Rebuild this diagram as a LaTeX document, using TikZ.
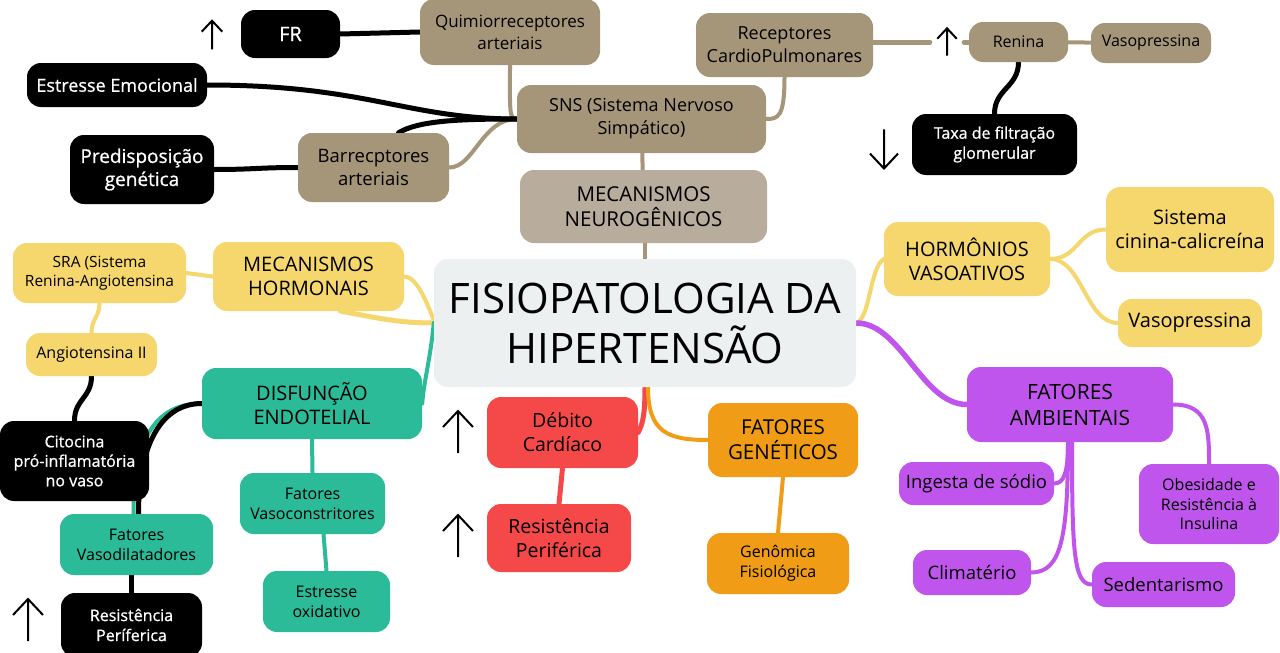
\documentclass[tikz,border=0pt]{standalone}
\usepackage{fontspec}
\setmainfont{Open Sans}
\usepackage{tikz}
\pgfdeclarelayer{bg}
\pgfdeclarelayer{links}
\pgfsetlayers{bg,links,main}
\definecolor{centerGray}{RGB}{236,240,241}
\definecolor{neuroBrown}{RGB}{165,150,122}
\definecolor{neuroLight}{RGB}{184,172,156}
\definecolor{hormoneYellow}{RGB}{245,215,110}
\definecolor{endoGreen}{RGB}{43,187,152}
\definecolor{cardioRed}{RGB}{245,72,72}
\definecolor{geneOrange}{RGB}{241,156,22}
\definecolor{ambientPurple}{RGB}{191,85,236}
\tikzset{wh/.style 2 args={minimum width=#1pt,minimum height=#2pt},
  topic/.style={rounded corners=14pt,align=center,inner sep=0pt,text=black},
  dark/.style={topic,fill=black,text=white,execute at begin node={\addfontfeatures{FakeBold=0.8}}},
  fs/.style 2 args={font=\fontsize{#1}{#2}\selectfont},
  link/.style={line width=4pt,line cap=round},
  up arrow/.pic={\draw[line width=2pt] (0,21) -- (0,-21) (-15,-5) -- (0,-21) -- (15,-5);}}

\begin{document}
\begin{tikzpicture}[x=1pt,y=-1pt]
\useasboundingbox (0,0) rectangle (1280,653);
\begin{pgfonlayer}{bg}
\fill[white] (0,0) rectangle (1280,653);
\end{pgfonlayer}

\node[topic,fill=centerGray,wh={422}{128},fs={42}{50}] (hiper) at (645,323) {FISIOPATOLOGIA DA\\HIPERTENSÃO};

\node[topic,fill=neuroLight,fs={20.5}{25},wh={247}{73}] (neuro) at (643.5,206.5) {MECANISMOS\\NEUROGÊNICOS};
\node[topic,fill=neuroBrown,fs={18}{23},wh={249}{68}] (sns) at (641.5,119) {SNS (Sistema Nervoso\\Simpático)};
\node[topic,fill=neuroBrown,fs={17}{22},wh={180}{66}] (quimio) at (510,32) {Quimiorreceptores\\arteriais};
\node[dark,fs={20}{24},wh={99}{48}] (fr) at (290.5,34) {FR};
\node[dark,fs={18}{22},wh={180}{44}] (estresse) at (117,85) {Estresse Emocional};
\node[dark,fs={19}{23},wh={144}{69}] (predisp) at (142,169.5) {Predisposição\\genética};
\node[topic,fill=neuroBrown,fs={18.5}{23},wh={151}{69}] (barre) at (373.5,167.5) {Barrecptores\\arteriais};
\node[topic,fill=neuroBrown,fs={18}{23},wh={177}{64}] (rcp) at (784.5,45) {Receptores\\CardioPulmonares};
\node[wh={34}{30}] (upRen) at (947,42) {};
\node[topic,fill=neuroBrown,fs={16}{20},wh={99}{40}] (renina) at (1018.5,42) {Renina};
\node[topic,fill=neuroBrown,fs={16}{20},wh={120}{40}] (vasoTop) at (1151,43) {Vasopressina};
\node[dark,fs={16}{20},wh={165}{61}] (taxa) at (994.5,144.5) {Taxa de filtração\\glomerular};

\node[topic,fill=hormoneYellow,fs={20}{24},wh={166}{74}] (hormonios) at (967,259) {HORMÔNIOS\\VASOATIVOS};
\node[topic,fill=hormoneYellow,fs={20}{24},wh={168}{85}] (cinina) at (1190,229.5) {Sistema\\cinina-calicreína};
\node[topic,fill=hormoneYellow,fs={20}{24},wh={144}{48}] (vasoR) at (1190,323) {Vasopressina};

\node[topic,fill=ambientPurple,fs={21}{26},wh={206}{75}] (ambientais) at (1070,404.5) {FATORES\\AMBIENTAIS};
\node[topic,fill=ambientPurple,fs={18.5}{22},wh={155}{43}] (ingesta) at (976.5,483.5) {Ingesta de sódio};
\node[topic,fill=ambientPurple,fs={16}{19.5},wh={140}{80}] (obesidade) at (1209,504) {Obesidade e\\Resistência à\\Insulina};
\node[topic,fill=ambientPurple,fs={18.5}{22},wh={118}{45}] (climaterio) at (972,572.5) {Climatério};
\node[topic,fill=ambientPurple,fs={18.5}{22},wh={143}{45}] (sedent) at (1163.5,584.5) {Sedentarismo};

\node[topic,fill=cardioRed,fs={19.5}{24},wh={151}{71}] (debito) at (562.5,432.5) {Débito\\Cardíaco};
\node[topic,fill=cardioRed,fs={19.5}{24},wh={144}{68}] (resPer) at (559,538) {Resistência\\Periférica};
\node[topic,fill=geneOrange,fs={20.5}{25},wh={150}{74}] (geneticos) at (783,440) {FATORES\\GENÉTICOS};
\node[topic,fill=geneOrange,fs={16}{20},wh={142}{61}] (genomica) at (778,563.5) {Genômica\\Fisiológica};

\node[topic,fill=hormoneYellow,fs={15.5}{19.5},wh={173}{60}] (sra) at (99.5,273) {SRA (Sistema\\Renina-Angiotensina};
\node[topic,fill=hormoneYellow,fs={20}{24},wh={191}{69}] (hormonais) at (308.5,276.5) {MECANISMOS\\HORMONAIS};
\node[topic,fill=hormoneYellow,fs={16}{20},wh={131}{43}] (angio) at (91.5,354.5) {Angiotensina II};
\node[dark,fs={16}{19.5},wh={149}{80}] (citocina) at (74.5,461) {Citocina\\pró-inflamatória\\no vaso};
\node[topic,fill=endoGreen,fs={20}{24},wh={220}{71}] (disfuncao) at (312,403.5) {DISFUNÇÃO\\ENDOTELIAL};
\node[topic,fill=endoGreen,fs={16}{20},wh={145}{61}] (vasoconstr) at (312.5,503.5) {Fatores\\Vasoconstritores};
\node[topic,fill=endoGreen,fs={16}{20},wh={127}{61}] (oxidativo) at (326.5,601.5) {Estresse\\oxidativo};
\node[topic,fill=endoGreen,fs={16}{20},wh={153}{61}] (vasodil) at (136.5,544.5) {Fatores\\Vasodilatadores};
\node[dark,fs={16}{20},wh={141}{64}] (resPerif) at (131.5,625) {Resistência\\Períferica};

\pic[scale=0.68] at (212,35) {up arrow};
\pic[scale=0.65] at (upRen) {up arrow};
\pic[rotate=180,scale=0.93] at (884,149) {up arrow};
\pic at (458,432) {up arrow};
\pic at (458,536) {up arrow};
\pic at (28,620) {up arrow};

\begin{pgfonlayer}{links}
\draw[link,neuroBrown] (hiper.north) -- (hiper.north |- neuro.south);
\draw[link,neuroBrown] (sns) -- (neuro);
\draw[link,neuroBrown] (quimio.south) .. controls +(0,45) and +(-8,0) .. (sns.west);
\draw[link,neuroBrown] (barre.east) .. controls +(25,0) and +(-35,0) .. (sns.west);
\draw[link,neuroBrown] (rcp.south) .. controls +(0,40) and +(12,0) .. (sns.east);
\draw[link,neuroBrown,line width=5pt] (rcp.east |- upRen) -- (upRen) -- (renina);
\draw[link,neuroBrown] (renina) -- (vasoTop);

\draw[link,line width=5pt] (fr.east) -- (quimio.west);
\draw[link,line width=5pt] (estresse.east) .. controls +(160,0) and +(-110,0) .. (sns.west);
\draw[link,line width=5pt] ([xshift=25pt]barre.north) .. controls +(20,-12) and +(-60,0) .. (sns.west);
\draw[link,line width=5pt] (predisp.east) .. controls +(40,0) and +(-40,0) .. (barre.west);
\draw[link,line width=5pt] (renina.south) .. controls +(0,25) and +(0,-25) .. (taxa.north);
\draw[link,line width=5pt] (angio.south) .. controls +(0,22) and +(0,-22) .. (citocina.north);
\draw[link,line width=5pt] (resPerif.north |- vasodil.south) -- (resPerif.north);
\draw[link,endoGreen] (disfuncao.west) .. controls +(-55,0) and +(0,-60) .. ([xshift=-3pt]vasodil.north);
\draw[link,line width=5pt] (disfuncao.west) .. controls +(-40,0) and +(0,-70) .. ([xshift=2pt]vasodil.north);

\draw[link,hormoneYellow] ([yshift=3pt]hiper.west) .. controls +(-8,-20) and +(12,0) .. (hormonais.east);
\draw[link,hormoneYellow,line width=5pt] (hiper.west) .. controls +(-40,0) and +(30,5) .. ([xshift=32pt]hormonais.south);
\draw[link,hormoneYellow] (hormonais.west) -- (sra.east);
\draw[link,hormoneYellow] (sra.south) .. controls +(0,14) and +(0,-14) .. (angio.north);
\draw[link,hormoneYellow] (hiper.east) .. controls +(14,-4) and +(-14,8) .. (hormonios.west);
\draw[link,hormoneYellow] (hormonios.east) .. controls +(28,0) and +(-28,0) .. (cinina.west);
\draw[link,hormoneYellow] (hormonios.east) .. controls +(32,0) and +(-32,0) .. (vasoR.west);

\draw[link,ambientPurple,line width=5.5pt] (hiper.east) .. controls +(45,0) and +(-45,0) .. (ambientais.west);
\draw[link,ambientPurple] ([xshift=-2pt]ambientais.south) .. controls +(0,30) and +(10,0) .. (ingesta.east);
\draw[link,ambientPurple] ([xshift=-2pt]ambientais.south) .. controls +(0,95) and +(30,0) .. (climaterio.east);
\draw[link,ambientPurple] ([xshift=2pt]ambientais.south) .. controls +(0,110) and +(-18,0) .. (sedent.west);
\draw[link,ambientPurple] (ambientais.east) .. controls +(36,0) and +(0,-32) .. (obesidade.north);

\draw[link,endoGreen] (hiper.west) .. controls +(-4,40) and +(2,-25) .. (disfuncao.east);
\draw[link,endoGreen] (disfuncao.south) -- (vasoconstr.north);
\draw[link,endoGreen] ([xshift=11pt]vasoconstr.south) -- (oxidativo.north);

\draw[link,cardioRed,line width=5pt] (hiper.south) .. controls +(0,30) and +(4,-8) .. (debito.east);
\draw[link,cardioRed,line width=5pt] (debito.south) -- (resPer.north);
\draw[link,geneOrange] ([xshift=3pt]hiper.south) .. controls +(0,45) and +(-40,0) .. (geneticos.west);
\draw[link,geneOrange] (geneticos.south) -- (genomica.north);
\end{pgfonlayer}
\end{tikzpicture}
\end{document}
